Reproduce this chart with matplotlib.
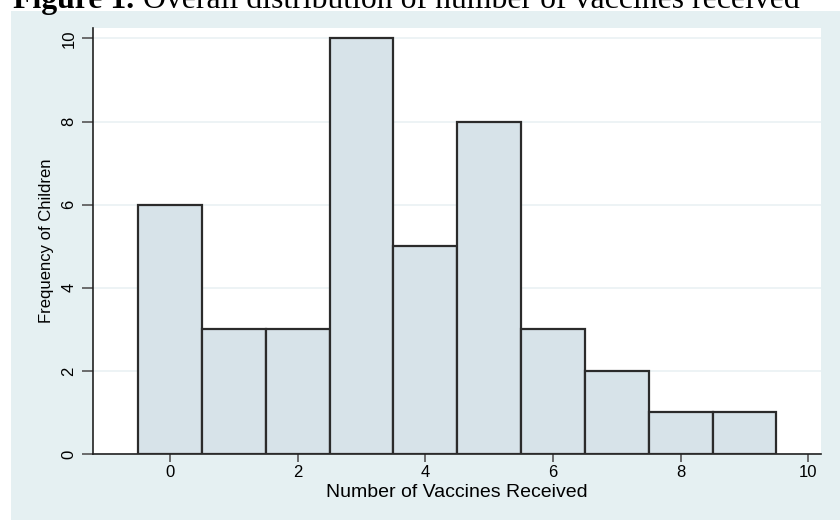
import numpy as np
import matplotlib.pyplot as plt
from matplotlib.patches import Rectangle

# Daten: Anzahl Impfungen und Haeufigkeit
vaccines = [0, 1, 2, 3, 4, 5, 6, 7, 8, 9]
freq = [6, 3, 3, 10, 5, 8, 3, 2, 1, 1]
xticks = [0, 2, 4, 6, 8, 10]
yticks = [0, 2, 4, 6, 8, 10]

bg = '#e5f0f2'
barcol = '#d7e3e9'

fig = plt.figure(figsize=(8.4, 5.2), dpi=100)
fig.patch.set_facecolor('white')
# hellblauer Grafikbereich (Stata-Stil)
fig.patches.append(Rectangle((11/840, 0), 1, 1 - 11/520, transform=fig.transFigure,
                             facecolor=bg, edgecolor='none', zorder=-10))

ax = fig.add_axes([93/840, 66/520, 728/840, 426/520])
ax.set_facecolor('white')
ax.bar(vaccines, freq, width=1.0, color=barcol, edgecolor='#2b2b2b', linewidth=1.6, zorder=3)
ax.set_xlim(-1.207, 10.2)
ax.set_ylim(0, 10.25)
ax.set_xticks(xticks)
ax.set_yticks(yticks)
ax.yaxis.grid(True, color='#eaf1f3', linewidth=1.2, zorder=0)
for s in ['top', 'right']:
    ax.spines[s].set_visible(False)
for s in ['left', 'bottom']:
    ax.spines[s].set_color('#222222')
    ax.spines[s].set_linewidth(1.2)
ax.tick_params(axis='x', length=6, width=1.2, color='#555555', labelsize=12, pad=2)
ax.tick_params(axis='y', length=8, width=1.2, color='#555555', labelsize=12, pad=4)
for lab in ax.get_yticklabels():
    lab.set_rotation(90)
    lab.set_va('center')
for lab in ax.get_xticklabels() + ax.get_yticklabels():
    lab.set_family('Liberation Sans')
ax.set_xlabel('Number of Vaccines Received', family='Liberation Sans', fontsize=14, labelpad=3)
ax.set_ylabel('Frequency of Children', family='Liberation Sans', fontsize=12, labelpad=5)

# Titel oben, teilweise abgeschnitten
t1 = fig.text(13/840, 1 - 8/520, 'Figure 1.', family='Liberation Serif', weight='bold',
              fontsize=22.9, va='baseline', ha='left')
fig.canvas.draw()
bb = t1.get_window_extent()
fig.text(bb.x1/fig.bbox.width + 9/840, 1 - 8/520, 'Overall distribution of number of vaccines received',
         family='Liberation Serif', fontsize=22.9, va='baseline', ha='left')

plt.savefig('out.png', dpi=100)
